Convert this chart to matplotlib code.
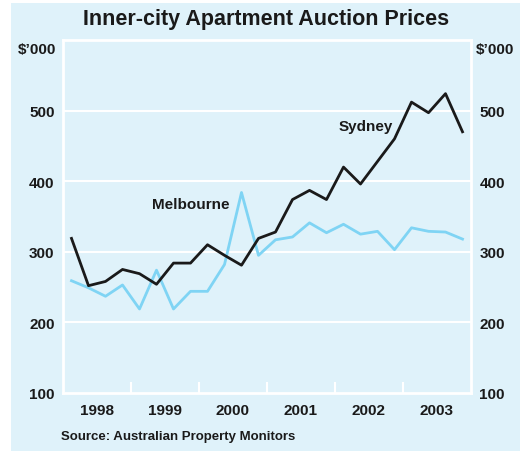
import matplotlib.pyplot as plt
import numpy as np
from matplotlib.patches import Rectangle

plt.rcParams["font.family"] = ["Liberation Sans", "DejaVu Sans"]

# quarterly data, 1998 Q1 - 2003 Q4 ($'000)
years = [1998, 1999, 2000, 2001, 2002, 2003]
sydney = [319, 252, 258, 275, 269, 254, 284, 284, 310, 295, 281, 319,
          328, 374, 387, 374, 420, 396, 428, 460, 512, 497, 524, 470]
melbourne = [259, 249, 237, 253, 219, 274, 219, 244, 244, 282, 384, 295,
             317, 321, 341, 327, 339, 325, 329, 303, 334, 329, 328, 318]
y_ticks = [100, 200, 300, 400, 500]

BG = "#dff2fa"
SKY = "#7fd4f4"
DARK = "#1a1a1a"

t = 1998 + np.arange(len(sydney)) / 4 + 0.125

fig = plt.figure(figsize=(5.2, 4.52), dpi=100, facecolor="white")
fig.patches.append(Rectangle((11 / 520, 0), 1, 448 / 452, transform=fig.transFigure,
                             facecolor=BG, edgecolor="none", zorder=-1))

ax = fig.add_axes([63 / 520, 58 / 452, 408 / 520, 353 / 452])
ax.set_facecolor(BG)
ax.set_xlim(1998, 2004)
ax.set_ylim(100, 600)

for s in ax.spines.values():
    s.set_color("white")
    s.set_linewidth(2)
for v in y_ticks[1:]:
    ax.axhline(v, color="white", lw=1.5, zorder=1)

ax.plot(t, melbourne, color=SKY, lw=2, zorder=3)
ax.plot(t, sydney, color=DARK, lw=2, zorder=4)

# year boundary ticks drawn inward, labels centred on the year
ax.set_xticks([y + 1 for y in years[:-1]])
ax.set_xticklabels([])
ax.tick_params(axis="x", direction="in", length=8, width=1.5, color="white")
ax.set_xticks([y + 0.5 for y in years], minor=True)
ax.set_xticklabels([str(y) for y in years], minor=True, fontsize=11, fontweight="bold", color=DARK)
ax.tick_params(axis="x", which="minor", length=0, pad=7)

ax.set_yticks(y_ticks)
ax.set_yticklabels([str(v) for v in y_ticks], fontsize=11, fontweight="bold", color=DARK)
ax.tick_params(axis="y", length=0, pad=6, labelright=True, right=False)

ax.text(2002.45, 478, "Sydney", fontsize=11, fontweight="bold", color=DARK, ha="center", va="center")
ax.text(1999.88, 367, "Melbourne", fontsize=11, fontweight="bold", color=DARK, ha="center", va="center")

fig.text(56 / 520, 1 - 50 / 452, "$\u2019000", fontsize=11, fontweight="bold", color=DARK,
         ha="right", va="center")
fig.text(476 / 520, 1 - 50 / 452, "$\u2019000", fontsize=11, fontweight="bold", color=DARK,
         ha="left", va="center")

fig.text(266 / 520, 1 - 20 / 452, "Inner-city Apartment Auction Prices", fontsize=15.5,
         fontweight="bold", color=DARK, ha="center", va="center")
fig.text(61 / 520, 1 - 437 / 452, "Source: Australian Property Monitors", fontsize=9.5,
         fontweight="bold", color=DARK, ha="left", va="center")

fig.savefig("out.png", dpi=100, facecolor="white")
